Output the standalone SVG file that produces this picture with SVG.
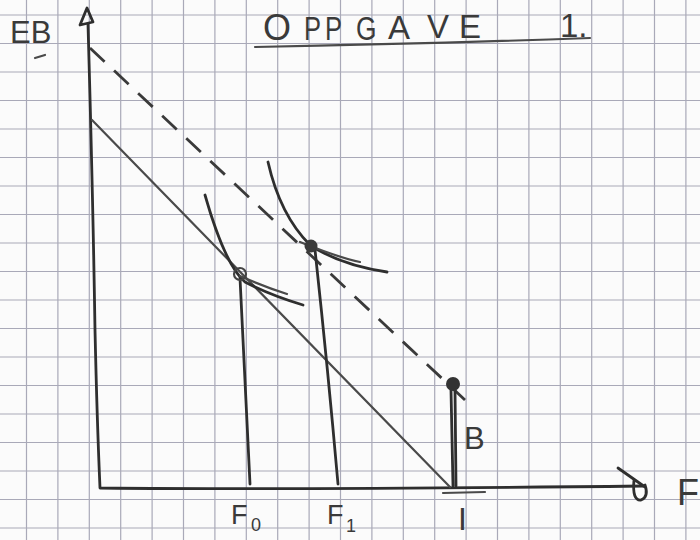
<svg xmlns="http://www.w3.org/2000/svg" width="700" height="540" viewBox="0 0 700 540">
<style>
.grid{stroke:#a9a9b8;stroke-width:1.2;fill:none}
.ink{stroke:#2e2e2e;stroke-width:2.8;fill:none;stroke-linecap:round;stroke-linejoin:round}
.pen{stroke:#4a4a4a;stroke-width:2.2;fill:none;stroke-linecap:round}
.dash{stroke:#3a3a3a;stroke-width:2.8;fill:none;stroke-dasharray:20 13}
.txt{font-family:"Liberation Sans",Arial,sans-serif;fill:#3a3a3a}
</style>
<rect width="700" height="540" fill="#fbfbfb"/>
<g id="grid">
<path class="grid" d="M-4.9,0V540M26.5,0V540M57.9,0V540M89.3,0V540M120.7,0V540M152.1,0V540M183.5,0V540M214.9,0V540M246.3,0V540M277.7,0V540M309.1,0V540M340.5,0V540M371.9,0V540M403.3,0V540M434.7,0V540M466.1,0V540M497.5,0V540M528.9,0V540M560.3,0V540M591.7,0V540M623.1,0V540M654.5,0V540M685.9,0V540"/>
<path class="grid" d="M0,15H700M0,43.5H700M0,72H700M0,100.5H700M0,129H700M0,157.5H700M0,186H700M0,214.5H700M0,243H700M0,271.5H700M0,300H700M0,328.5H700M0,357H700M0,385.5H700M0,414H700M0,442.5H700M0,471H700M0,499.5H700M0,528H700"/>
</g>
<g id="title">
<text class="txt" font-size="36" x="263" y="40">O</text>
<text class="txt" font-size="34" transform="translate(304,40) scale(0.75,1)">P</text>
<text class="txt" font-size="34" transform="translate(325,40) scale(0.75,1)">P</text>
<text class="txt" font-size="33" transform="translate(356,40) scale(0.8,1)">G</text>
<text class="txt" font-size="33" x="388" y="39">A</text>
<text class="txt" font-size="33" x="427" y="38">V</text>
<text class="txt" font-size="33" x="459" y="38">E</text>
<text class="txt" font-size="33" x="560" y="37">1.</text>
<path class="pen" d="M255,47 Q420,44 590,38"/>
</g>
<g id="axes">
<path class="ink" d="M88,24 Q93,200 95,330 Q97,420 100,488 Q300,490 643,486"/>
<path class="ink" stroke-width="2" d="M80,25 L87,8 L93,22 Z"/>
<path class="ink" stroke-width="2" d="M618,468 L645,487 M634,480 Q632,501 641,500 Q649,497 645,485"/>
<path class="pen" d="M35,58 L45,55"/>
</g>
<g id="connectors">
<path class="pen" stroke="#555" d="M92,120 L450,487"/>
<path class="dash" d="M90,48 L465,400"/>
<path class="ink" d="M240,278 Q245,380 250,484"/>
<path class="ink" d="M315,250 Q328,370 338,484"/>
<path class="ink" d="M451,390 L453,486 M455,390 L456,486"/>
<path class="ink" stroke="#3a3a3a" d="M205,195 Q225,265 245,282 Q270,295 303,305"/>
<path class="pen" d="M240,276 Q265,287 287,294"/>
<path class="ink" stroke="#444" stroke-width="3" d="M268,162 Q280,215 310,245 Q340,265 387,272"/>
<path class="pen" d="M300,242 Q340,258 360,262"/>
</g>
<g id="points">
<circle cx="240" cy="274" r="6" fill="none" stroke="#444" stroke-width="2.2"/>
<circle cx="311" cy="246" r="6.5" fill="#3a3a3a"/>
<circle cx="453" cy="384" r="7" fill="#333"/>
</g>
<g id="labels">
<text class="txt" font-size="31" x="10" y="43">EB</text>
<text class="txt" font-size="36" x="677" y="505">F</text>
<text class="txt" font-size="31" x="464" y="449">B</text>
<path class="pen" d="M443,493 L485,492"/>
<text class="txt" font-size="32" x="458" y="530">I</text>
<text class="txt" font-size="27" x="231" y="524">F</text>
<text class="txt" font-size="18" x="251" y="531">0</text>
<text class="txt" font-size="27" x="327" y="524">F</text>
<text class="txt" font-size="18" x="346" y="532">1</text>
</g>
</svg>
